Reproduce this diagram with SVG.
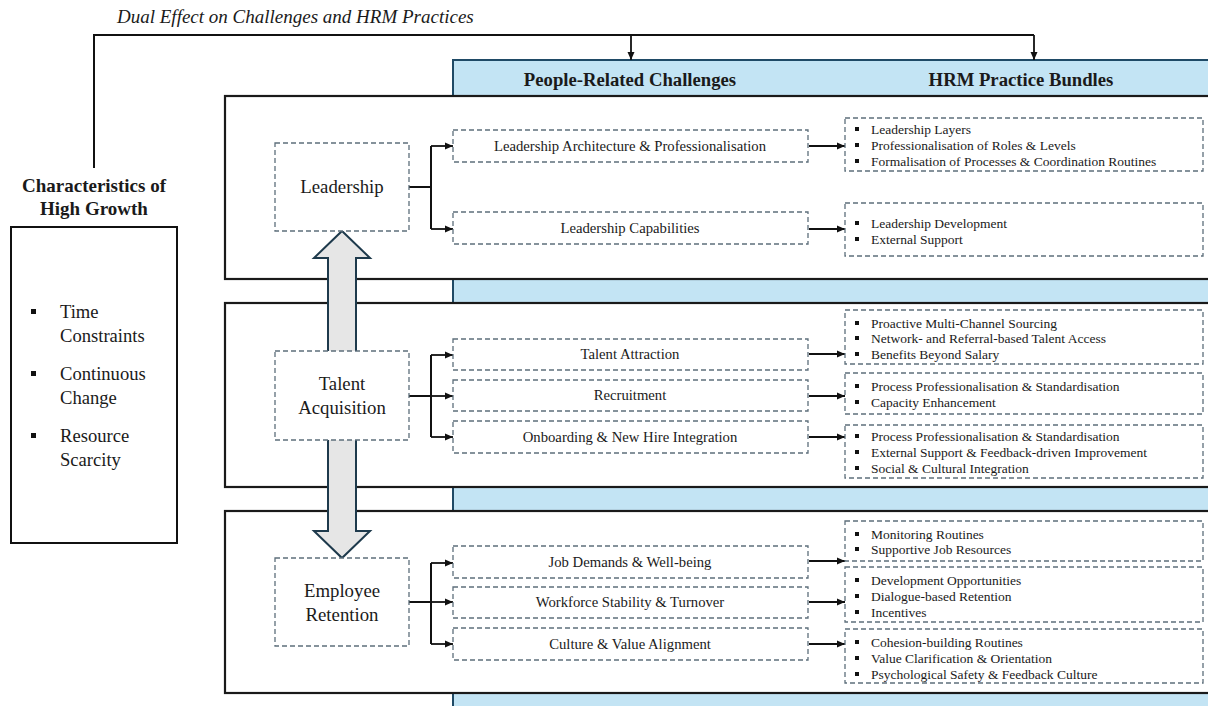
<svg xmlns="http://www.w3.org/2000/svg" width="1208" height="706" viewBox="0 0 1208 706">
<defs>
<style>
text{font-family:"Liberation Serif","Times New Roman",serif;fill:#1a1a1a}
.panel{fill:#fff;stroke:#1a1a1a;stroke-width:2.2}
.dash{fill:#fff;stroke:#5d6f7b;stroke-width:1.3;stroke-dasharray:5 3}
.main{font-size:18.8px;text-anchor:middle}
.ch{font-size:14.7px;text-anchor:middle}
.hrm{font-size:13.5px}
.hdr{font-size:18.7px;font-weight:bold;text-anchor:middle}
.ln{fill:none;stroke:#111;stroke-width:2}
.ar{fill:none;stroke:#111;stroke-width:1.8;marker-end:url(#ah)}
.lb{font-size:18.6px}
</style>
<marker id="ah" markerUnits="userSpaceOnUse" markerWidth="8" markerHeight="8" refX="8" refY="4" orient="auto"><path d="M0,0.5 L8,4 L0,7.5 z" fill="#111"/></marker>
<symbol id="bul" overflow="visible"><rect x="-2" y="-2" width="4" height="4" fill="#111"/></symbol>
</defs>

<text x="117" y="23" font-size="19" font-style="italic">Dual Effect on Challenges and HRM Practices</text>

<g id="band">
<rect x="453" y="60" width="770" height="660" fill="#c3e4f4" stroke="#1f4a66" stroke-width="2"/>
<text class="hdr" x="630" y="86">People-Related Challenges</text>
<text class="hdr" x="1021" y="86">HRM Practice Bundles</text>
</g>

<g id="panels">
<rect class="panel" x="225" y="96" width="1000" height="183"/>
<rect class="panel" x="225" y="303" width="1000" height="184"/>
<rect class="panel" x="225" y="511" width="1000" height="182"/>
</g>

<g id="characteristics">
<text x="94" y="192" font-size="19" font-weight="bold" text-anchor="middle">Characteristics of</text>
<text x="94" y="215" font-size="19" font-weight="bold" text-anchor="middle">High Growth</text>
<rect x="11" y="227" width="166" height="316" fill="#fff" stroke="#111" stroke-width="2"/>
<rect x="31" y="309" width="5" height="5" fill="#111"/>
<rect x="31" y="371" width="5" height="5" fill="#111"/>
<rect x="31" y="433" width="5" height="5" fill="#111"/>
<text class="lb" x="60" y="318">Time</text>
<text class="lb" x="60" y="342">Constraints</text>
<text class="lb" x="60" y="380">Continuous</text>
<text class="lb" x="60" y="404">Change</text>
<text class="lb" x="60" y="442">Resource</text>
<text class="lb" x="60" y="466">Scarcity</text>
</g>

<g id="double-arrow">
<polygon points="342,231 370,258 356,258 356,531 370,531 342,558 314,531 328,531 328,258 314,258" fill="#e6e6e6" stroke="#1e3a4c" stroke-width="2" stroke-linejoin="miter"/>
</g>

<g id="connectors">
<path class="ln" d="M94,168 V35 H1034"/>
<path class="ar" d="M631,35 V60"/>
<path class="ar" d="M1034,35 V60"/>
<path class="ln" d="M409,187 H431 M431,146 V229" stroke-width="2.4"/>
<path class="ar" d="M431,146 H453"/>
<path class="ar" d="M431,229 H453"/>
<path class="ln" d="M409,396 H431 M431,355 V437"/>
<path class="ar" d="M431,355 H453"/>
<path class="ar" d="M431,396 H453"/>
<path class="ar" d="M431,437 H453"/>
<path class="ln" d="M409,602 H431 M431,563 V644"/>
<path class="ar" d="M431,563 H453"/>
<path class="ar" d="M431,602 H453"/>
<path class="ar" d="M431,644 H453"/>
<path class="ar" d="M809,146 H845"/>
<path class="ar" d="M809,229 H845"/>
<path class="ar" d="M809,354 H845"/>
<path class="ar" d="M809,396 H845"/>
<path class="ar" d="M809,437 H845"/>
<path class="ar" d="M809,561 H845"/>
<path class="ar" d="M809,602 H845"/>
<path class="ar" d="M809,644 H845"/>
</g>

<g id="leadership">
<rect class="dash" x="275" y="143" width="134" height="88"/>
<text class="main" x="342" y="193">Leadership</text>
</g>
<g id="talent-acquisition">
<rect class="dash" x="275" y="351" width="134" height="89"/>
<text class="main" x="342" y="390">Talent</text>
<text class="main" x="342" y="414">Acquisition</text>
</g>
<g id="employee-retention">
<rect class="dash" x="275" y="558" width="134" height="88"/>
<text class="main" x="342" y="597">Employee</text>
<text class="main" x="342" y="621">Retention</text>
</g>

<g id="ch-leadership-architecture"><rect class="dash" x="453" y="130" width="355" height="32"/><text class="ch" x="630" y="151">Leadership Architecture &amp; Professionalisation</text></g>
<g id="ch-leadership-capabilities"><rect class="dash" x="453" y="212" width="355" height="32"/><text class="ch" x="630" y="233">Leadership Capabilities</text></g>
<g id="ch-talent-attraction"><rect class="dash" x="453" y="339" width="355" height="31"/><text class="ch" x="630" y="359">Talent Attraction</text></g>
<g id="ch-recruitment"><rect class="dash" x="453" y="380" width="355" height="31"/><text class="ch" x="630" y="400">Recruitment</text></g>
<g id="ch-onboarding"><rect class="dash" x="453" y="421" width="355" height="32"/><text class="ch" x="630" y="442">Onboarding &amp; New Hire Integration</text></g>
<g id="ch-job-demands"><rect class="dash" x="453" y="546" width="355" height="32"/><text class="ch" x="630" y="567">Job Demands &amp; Well-being</text></g>
<g id="ch-workforce"><rect class="dash" x="453" y="587" width="355" height="31"/><text class="ch" x="630" y="607">Workforce Stability &amp; Turnover</text></g>
<g id="ch-culture"><rect class="dash" x="453" y="628" width="355" height="32"/><text class="ch" x="630" y="649">Culture &amp; Value Alignment</text></g>

<g id="hrm-leadership-architecture">
<rect class="dash" x="845" y="118" width="358" height="53"/>
<use href="#bul" x="857" y="129"/><use href="#bul" x="857" y="145"/><use href="#bul" x="857" y="161"/>
<text class="hrm" x="871" y="134">Leadership Layers</text>
<text class="hrm" x="871" y="150">Professionalisation of Roles &amp; Levels</text>
<text class="hrm" x="871" y="166">Formalisation of Processes &amp; Coordination Routines</text>
</g>
<g id="hrm-leadership-capabilities">
<rect class="dash" x="845" y="203" width="358" height="53"/>
<use href="#bul" x="857" y="223"/><use href="#bul" x="857" y="239"/>
<text class="hrm" x="871" y="228">Leadership Development</text>
<text class="hrm" x="871" y="244">External Support</text>
</g>
<g id="hrm-talent-attraction">
<rect class="dash" x="845" y="310" width="358" height="54"/>
<use href="#bul" x="857" y="323"/><use href="#bul" x="857" y="338"/><use href="#bul" x="857" y="354"/>
<text class="hrm" x="871" y="328">Proactive Multi-Channel Sourcing</text>
<text class="hrm" x="871" y="343">Network- and Referral-based Talent Access</text>
<text class="hrm" x="871" y="359">Benefits Beyond Salary</text>
</g>
<g id="hrm-recruitment">
<rect class="dash" x="845" y="373" width="358" height="41"/>
<use href="#bul" x="857" y="386"/><use href="#bul" x="857" y="402"/>
<text class="hrm" x="871" y="391">Process Professionalisation &amp; Standardisation</text>
<text class="hrm" x="871" y="407">Capacity Enhancement</text>
</g>
<g id="hrm-onboarding">
<rect class="dash" x="845" y="425" width="358" height="53"/>
<use href="#bul" x="857" y="436"/><use href="#bul" x="857" y="452"/><use href="#bul" x="857" y="468"/>
<text class="hrm" x="871" y="441">Process Professionalisation &amp; Standardisation</text>
<text class="hrm" x="871" y="457">External Support &amp; Feedback-driven Improvement</text>
<text class="hrm" x="871" y="473">Social &amp; Cultural Integration</text>
</g>
<g id="hrm-job-demands">
<rect class="dash" x="845" y="521" width="358" height="40"/>
<use href="#bul" x="857" y="534"/><use href="#bul" x="857" y="549"/>
<text class="hrm" x="871" y="539">Monitoring Routines</text>
<text class="hrm" x="871" y="554">Supportive Job Resources</text>
</g>
<g id="hrm-workforce">
<rect class="dash" x="845" y="567" width="358" height="55"/>
<use href="#bul" x="857" y="580"/><use href="#bul" x="857" y="596"/><use href="#bul" x="857" y="612"/>
<text class="hrm" x="871" y="585">Development Opportunities</text>
<text class="hrm" x="871" y="601">Dialogue-based Retention</text>
<text class="hrm" x="871" y="617">Incentives</text>
</g>
<g id="hrm-culture">
<rect class="dash" x="845" y="629" width="358" height="54"/>
<use href="#bul" x="857" y="642"/><use href="#bul" x="857" y="658"/><use href="#bul" x="857" y="674"/>
<text class="hrm" x="871" y="647">Cohesion-building Routines</text>
<text class="hrm" x="871" y="663">Value Clarification &amp; Orientation</text>
<text class="hrm" x="871" y="679">Psychological Safety &amp; Feedback Culture</text>
</g>
</svg>
